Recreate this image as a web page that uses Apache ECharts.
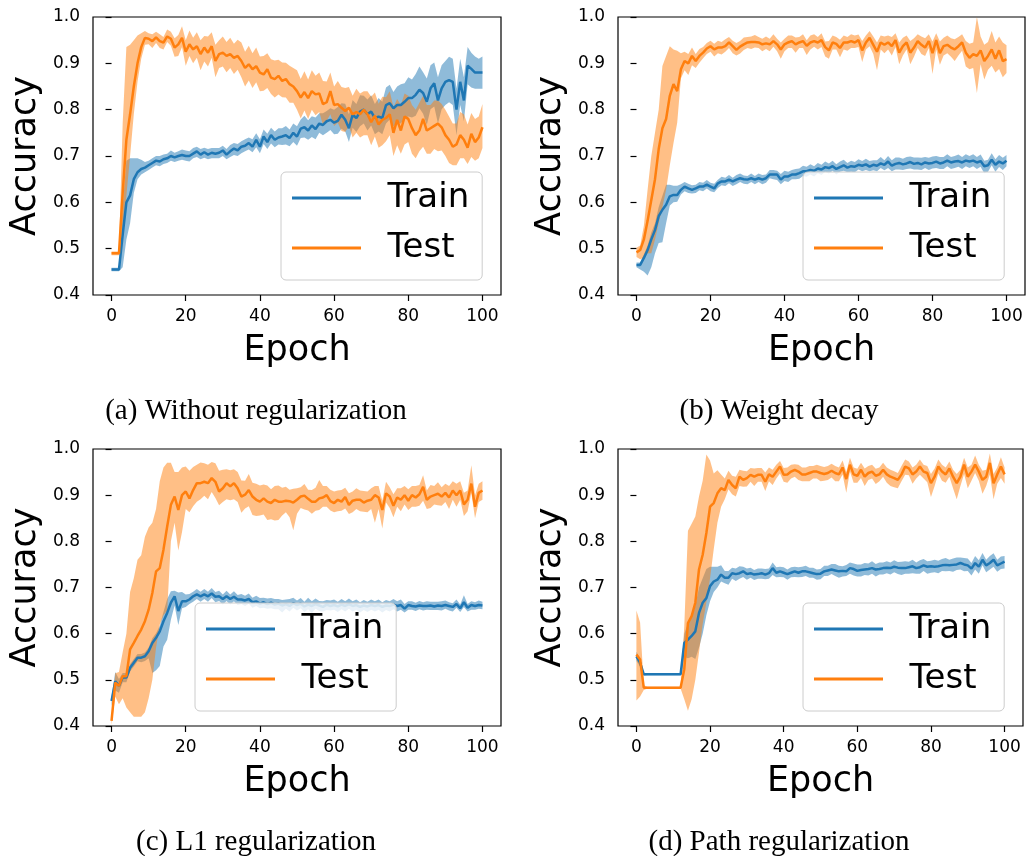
<!DOCTYPE html>
<html><head><meta charset="utf-8">
<script src="https://cdn.jsdelivr.net/npm/echarts@6/dist/echarts.min.js"></script>
<style>html,body{margin:0;padding:0;background:#fff}#c{width:1026px;height:856px}</style>
</head><body><div id="c"></div>
<script>
const epochs = [0,1,2,3,4,5,6,7,8,9,10,11,12,13,14,15,16,17,18,19,20,21,22,23,24,25,26,27,28,29,30,31,32,33,34,35,36,37,38,39,40,41,42,43,44,45,46,47,48,49,50,51,52,53,54,55,56,57,58,59,60,61,62,63,64,65,66,67,68,69,70,71,72,73,74,75,76,77,78,79,80,81,82,83,84,85,86,87,88,89,90,91,92,93,94,95,96,97,98,99,100];
const xTicks = [0,20,40,60,80,100];
const seriesNames = ['Train','Test'];
const captions = ['(a) Without regularization','(b) Weight decay','(c) L1 regularization','(d) Path regularization'];

// (a) Without regularization
const aTrain = [.455,.455,.455,.53,.60,.615,.65,.665,.672,.675,
.68,.685,.69,.688,.693,.695,.70,.697,.70,.702,
.70,.70,.705,.71,.703,.708,.703,.707,.705,.707,
.712,.703,.71,.716,.712,.72,.722,.728,.72,.735,
.72,.742,.73,.745,.735,.74,.742,.745,.739,.75,
.742,.759,.762,.755,.766,.758,.77,.767,.775,.778,
.772,.776,.789,.778,.76,.789,.782,.796,.80,.79,
.796,.782,.785,.782,.81,.814,.803,.81,.81,.817,
.825,.825,.832,.843,.836,.817,.846,.857,.82,.846,
.86,.864,.86,.80,.86,.82,.895,.888,.88,.88,
.88];
const aTrainDn = [.004,.004,.004,.07,.08,.06,.03,.015,.012,.01,
.01,.01,.01,.01,.01,.01,.01,.01,.01,.01,
.01,.012,.01,.012,.01,.012,.01,.012,.01,.012,
.012,.01,.012,.014,.012,.014,.012,.014,.012,.016,
.014,.016,.015,.018,.016,.015,.018,.02,.018,.02,
.02,.02,.022,.02,.025,.022,.02,.022,.025,.022,
.025,.028,.03,.025,.03,.028,.03,.032,.03,.035,
.03,.035,.032,.035,.04,.035,.04,.038,.04,.035,
.04,.042,.045,.04,.045,.05,.045,.05,.05,.045,
.05,.048,.05,.055,.05,.045,.04,.04,.035,.035,
.035];
const aTrainUp = [.004,.004,.004,.06,.09,.08,.045,.03,.02,.012,
.01,.01,.01,.012,.01,.01,.012,.01,.01,.012,
.012,.01,.012,.01,.012,.01,.012,.01,.012,.01,
.01,.012,.014,.012,.014,.012,.014,.012,.016,.014,
.016,.015,.018,.016,.018,.02,.018,.02,.018,.02,
.022,.02,.025,.022,.02,.025,.022,.025,.022,.025,
.028,.03,.025,.035,.03,.032,.03,.035,.03,.032,
.035,.03,.04,.035,.038,.04,.035,.04,.045,.04,
.045,.04,.045,.05,.045,.05,.05,.045,.05,.05,
.045,.05,.05,.045,.05,.05,.04,.035,.035,.03,
.035];
const aTest = [.49,.49,.49,.62,.735,.79,.85,.90,.935,.955,
.953,.948,.956,.948,.945,.958,.953,.934,.941,.955,
.925,.941,.93,.937,.92,.934,.923,.937,.905,.92,
.923,.916,.92,.912,.916,.905,.89,.898,.887,.894,
.88,.876,.887,.869,.866,.873,.862,.866,.855,.85,
.84,.826,.838,.825,.84,.833,.835,.812,.816,.84,
.81,.812,.804,.797,.804,.79,.795,.79,.80,.79,
.773,.787,.768,.778,.782,.79,.75,.778,.755,.785,
.78,.76,.745,.755,.78,.755,.76,.765,.77,.762,
.745,.735,.72,.725,.745,.735,.718,.748,.73,.74,
.762];
const aTestDn = [.004,.004,.004,.10,.12,.09,.06,.04,.025,.015,
.012,.015,.012,.015,.015,.012,.015,.02,.025,.02,
.03,.025,.03,.025,.035,.03,.03,.025,.035,.03,
.03,.035,.03,.035,.03,.035,.04,.035,.04,.035,
.04,.035,.04,.035,.04,.04,.035,.04,.04,.035,
.04,.045,.04,.045,.04,.045,.04,.045,.04,.05,
.045,.04,.05,.045,.04,.05,.045,.05,.055,.045,
.05,.045,.05,.055,.05,.045,.05,.055,.05,.06,
.05,.055,.05,.045,.06,.05,.055,.05,.06,.05,
.045,.05,.04,.045,.05,.04,.035,.05,.04,.045,
.045];
const aTestUp = [.004,.004,.004,.15,.2,.15,.1,.06,.03,.015,
.012,.015,.012,.015,.012,.015,.015,.02,.02,.025,
.025,.03,.025,.03,.03,.025,.035,.03,.035,.03,
.035,.03,.035,.03,.035,.04,.035,.04,.035,.04,
.035,.04,.035,.04,.04,.035,.04,.035,.04,.04,
.045,.04,.045,.04,.045,.04,.045,.05,.045,.04,
.04,.05,.045,.05,.045,.04,.05,.045,.04,.05,
.055,.05,.045,.05,.045,.05,.055,.045,.055,.05,
.05,.05,.055,.06,.05,.055,.05,.055,.05,.05,
.055,.05,.05,.045,.05,.055,.05,.045,.05,.045,
.05];

// (b) Weight decay
const bTrain = [.465,.465,.48,.497,.52,.54,.57,.584,.595,.613,
.616,.616,.627,.634,.63,.627,.63,.634,.634,.638,
.634,.63,.641,.645,.645,.649,.645,.649,.652,.65,
.649,.652,.649,.652,.649,.652,.66,.66,.66,.649,
.656,.656,.66,.66,.663,.667,.667,.67,.668,.673,
.671,.676,.674,.678,.672,.676,.68,.675,.678,.677,
.681,.679,.682,.677,.681,.679,.684,.681,.688,.679,
.683,.685,.682,.684,.687,.683,.685,.682,.686,.684,
.685,.688,.684,.686,.69,.686,.688,.689,.686,.69,
.688,.69,.686,.689,.678,.68,.692,.681,.688,.684,
.69];
const bTrainDn = [.005,.01,.03,.055,.06,.05,.058,.07,.04,.02,
.016,.015,.01,.01,.01,.008,.01,.008,.01,.008,
.01,.008,.01,.008,.01,.008,.01,.01,.008,.01,
.01,.008,.01,.008,.01,.01,.008,.01,.012,.01,
.01,.012,.01,.01,.012,.01,.012,.01,.012,.01,
.012,.01,.012,.01,.012,.01,.012,.01,.012,.012,
.01,.012,.012,.01,.012,.012,.01,.012,.014,.012,
.012,.014,.012,.012,.014,.012,.014,.012,.012,.014,
.012,.014,.012,.014,.012,.014,.014,.012,.014,.012,
.014,.012,.014,.012,.015,.014,.012,.015,.012,.014,
.012];
const bTrainUp = [.005,.005,.008,.01,.015,.015,.02,.03,.043,.025,
.02,.02,.012,.01,.01,.01,.008,.01,.008,.01,
.008,.01,.008,.01,.008,.01,.008,.01,.01,.008,
.008,.01,.008,.01,.01,.008,.01,.01,.008,.012,
.012,.01,.01,.012,.01,.012,.01,.012,.01,.012,
.01,.012,.01,.012,.01,.012,.012,.01,.012,.01,
.012,.01,.012,.012,.01,.012,.014,.01,.012,.012,
.014,.012,.012,.014,.012,.014,.012,.014,.012,.012,
.014,.012,.014,.012,.014,.012,.012,.014,.012,.014,
.012,.014,.012,.014,.012,.012,.014,.012,.014,.012,
.012];
const bTest = [.492,.497,.52,.56,.605,.65,.715,.76,.78,.83,
.855,.84,.887,.905,.90,.916,.905,.916,.923,.932,
.937,.93,.934,.934,.937,.945,.937,.929,.936,.941,
.945,.946,.946,.945,.941,.943,.941,.948,.941,.93,
.941,.945,.948,.941,.945,.948,.938,.945,.948,.945,
.95,.935,.928,.945,.942,.933,.945,.945,.948,.945,
.95,.928,.945,.955,.94,.925,.945,.94,.945,.937,
.95,.923,.937,.945,.923,.934,.948,.94,.934,.948,
.922,.95,.922,.937,.94,.934,.93,.937,.945,.923,
.912,.92,.916,.928,.905,.916,.93,.91,.928,.905,
.909];
const bTestDn = [.01,.02,.04,.07,.115,.13,.16,.17,.153,.15,
.127,.068,.02,.02,.025,.02,.015,.015,.012,.012,
.012,.015,.012,.015,.012,.012,.015,.012,.015,.012,
.012,.015,.012,.012,.015,.012,.015,.012,.015,.02,
.015,.012,.015,.018,.012,.015,.02,.015,.012,.015,
.015,.02,.018,.015,.012,.02,.015,.018,.015,.012,
.015,.025,.015,.018,.02,.04,.015,.018,.015,.02,
.015,.025,.02,.015,.025,.02,.015,.02,.018,.015,
.045,.02,.025,.02,.018,.02,.025,.02,.018,.03,
.025,.03,.08,.03,.04,.03,.035,.03,.04,.035,
.03];
const bTestUp = [.01,.01,.03,.067,.095,.1,.085,.134,.136,.107,
.075,.087,.035,.02,.02,.018,.015,.015,.012,.012,
.012,.012,.015,.012,.015,.012,.012,.015,.012,.015,
.012,.012,.015,.012,.012,.015,.012,.015,.012,.015,
.012,.015,.012,.015,.012,.015,.012,.015,.015,.012,
.015,.012,.02,.015,.015,.018,.015,.012,.015,.015,
.012,.02,.015,.015,.018,.02,.015,.018,.015,.02,
.015,.022,.018,.015,.025,.02,.015,.018,.02,.015,
.025,.015,.025,.018,.02,.02,.022,.02,.018,.025,
.03,.025,.084,.03,.035,.03,.04,.035,.03,.04,
.03];

// (c) L1 regularization
const cTrain = [.454,.497,.487,.505,.505,.526,.537,.548,.548,.551,
.562,.58,.591,.605,.627,.645,.667,.681,.649,.67,
.67,.674,.681,.685,.681,.685,.681,.687,.68,.681,
.675,.681,.675,.68,.674,.674,.672,.675,.668,.67,
.665,.668,.664,.667,.663,.665,.661,.664,.66,.666,
.662,.665,.659,.663,.66,.664,.661,.658,.663,.66,
.662,.659,.663,.66,.664,.66,.662,.658,.661,.659,
.662,.66,.662,.658,.661,.66,.663,.66,.662,.654,
.662,.66,.659,.661,.66,.66,.661,.659,.661,.66,
.662,.66,.658,.664,.655,.668,.656,.662,.66,.662,
.661];
const cTrainDn = [.01,.02,.015,.01,.01,.008,.008,.008,.01,.01,
.015,.065,.07,.075,.055,.058,.037,.02,.03,.015,
.012,.01,.012,.01,.012,.01,.012,.01,.012,.01,
.012,.01,.012,.01,.012,.01,.012,.01,.012,.01,
.01,.012,.01,.012,.01,.012,.015,.01,.012,.01,
.012,.01,.012,.01,.015,.01,.012,.01,.012,.01,
.01,.012,.01,.012,.01,.012,.01,.012,.01,.012,
.01,.012,.01,.012,.01,.012,.01,.012,.01,.008,
.01,.008,.01,.008,.01,.008,.01,.008,.01,.01,
.008,.01,.01,.008,.008,.01,.008,.01,.008,.008,
.008];
const cTrainUp = [.01,.02,.015,.01,.01,.008,.008,.008,.008,.008,
.008,.01,.01,.012,.02,.03,.025,.012,.04,.02,
.015,.012,.01,.012,.01,.012,.01,.012,.01,.012,
.01,.012,.01,.012,.01,.012,.01,.012,.01,.012,
.012,.01,.012,.01,.012,.01,.012,.01,.015,.012,
.01,.012,.01,.015,.01,.012,.01,.012,.01,.012,
.012,.01,.012,.01,.012,.01,.012,.01,.012,.01,
.012,.01,.012,.01,.012,.01,.012,.01,.012,.01,
.008,.01,.008,.01,.008,.01,.008,.01,.008,.01,
.01,.008,.008,.01,.008,.015,.008,.008,.008,.01,
.008];
const cTest = [.411,.494,.487,.508,.508,.566,.58,.595,.609,.627,
.652,.688,.735,.742,.782,.832,.879,.897,.868,.90,
.908,.893,.911,.926,.926,.929,.926,.937,.929,.908,
.915,.926,.919,.926,.915,.897,.901,.911,.897,.89,
.886,.893,.886,.883,.89,.886,.886,.888,.887,.884,
.89,.897,.899,.892,.886,.886,.893,.895,.90,.887,
.883,.89,.886,.896,.879,.888,.89,.89,.884,.888,
.89,.90,.895,.868,.904,.897,.877,.895,.89,.90,
.888,.90,.895,.902,.918,.89,.897,.90,.903,.897,
.905,.895,.91,.90,.91,.88,.89,.925,.875,.905,
.91];
const cTestDn = [.01,.03,.04,.048,.068,.136,.16,.175,.189,.197,
.192,.188,.165,.122,.142,.182,.079,.057,.088,.08,
.038,.03,.035,.04,.035,.03,.035,.03,.035,.03,
.03,.035,.03,.035,.03,.035,.03,.035,.04,.035,
.03,.035,.04,.035,.045,.04,.03,.025,.035,.06,
.03,.025,.03,.025,.026,.02,.025,.02,.025,.02,
.02,.025,.02,.025,.02,.025,.02,.025,.02,.025,
.02,.06,.025,.04,.02,.025,.025,.02,.025,.02,
.02,.025,.02,.025,.03,.02,.025,.02,.025,.02,
.02,.025,.02,.025,.02,.025,.025,.02,.025,.02,
.02];
const cTestUp = [.01,.02,.03,.052,.092,.124,.14,.165,.161,.183,
.178,.152,.135,.188,.178,.138,.091,.053,.082,.06,
.054,.06,.05,.04,.045,.04,.04,.035,.04,.045,
.04,.03,.035,.03,.035,.035,.03,.035,.03,.035,
.035,.03,.035,.03,.03,.035,.03,.03,.025,.03,
.025,.02,.025,.02,.025,.03,.04,.025,.02,.025,
.025,.02,.025,.02,.025,.02,.025,.02,.025,.02,
.025,.02,.025,.02,.025,.02,.025,.02,.025,.02,
.025,.02,.025,.02,.025,.02,.025,.02,.025,.02,
.02,.025,.02,.025,.02,.025,.02,.04,.025,.02,
.02];

// (d) Path regularization
const dTrain = [.551,.537,.512,.512,.512,.512,.512,.512,.512,.512,
.512,.512,.512,.58,.587,.595,.605,.645,.667,.677,
.703,.713,.717,.728,.721,.721,.731,.729,.731,.735,
.729,.731,.728,.729,.731,.728,.731,.742,.732,.735,
.732,.729,.732,.735,.732,.735,.735,.733,.731,.729,
.73,.735,.737,.739,.737,.735,.736,.735,.742,.74,
.736,.738,.739,.74,.742,.739,.74,.742,.743,.742,
.745,.743,.742,.742,.744,.746,.742,.744,.748,.745,
.746,.745,.746,.748,.749,.748,.749,.75,.753,.75,
.748,.741,.753,.745,.76,.748,.753,.76,.748,.752,
.756];
const dTrainDn = [.01,.008,.003,.002,.002,.002,.002,.002,.002,.002,
.002,.002,.002,.03,.04,.045,.06,.075,.067,.037,
.033,.023,.017,.015,.012,.015,.012,.015,.012,.012,
.012,.01,.012,.01,.012,.01,.012,.015,.01,.012,
.01,.012,.01,.012,.01,.012,.01,.012,.01,.012,
.012,.01,.012,.01,.012,.014,.012,.01,.012,.014,
.012,.014,.012,.014,.012,.015,.012,.014,.012,.014,
.012,.014,.015,.012,.014,.015,.012,.014,.012,.015,
.014,.012,.015,.012,.014,.012,.015,.012,.014,.015,
.012,.015,.014,.015,.012,.015,.014,.015,.014,.012,
.015];
const dTrainUp = [.01,.008,.003,.002,.002,.002,.002,.002,.002,.002,
.002,.002,.002,.02,.035,.04,.055,.055,.053,.063,
.042,.032,.028,.02,.015,.015,.012,.012,.015,.01,
.012,.012,.01,.012,.01,.012,.01,.012,.012,.01,
.012,.01,.012,.01,.012,.01,.012,.01,.012,.01,
.01,.012,.01,.012,.014,.012,.01,.014,.012,.012,
.014,.012,.014,.012,.015,.012,.014,.012,.014,.012,
.014,.012,.014,.015,.012,.014,.012,.015,.014,.012,
.012,.015,.012,.014,.015,.012,.014,.015,.012,.014,
.015,.012,.015,.014,.015,.012,.015,.014,.012,.015,
.012];
const dTest = [.555,.544,.483,.483,.483,.483,.483,.483,.483,.483,
.483,.483,.483,.523,.623,.638,.667,.739,.771,.818,
.875,.883,.904,.915,.911,.933,.922,.915,.94,.933,
.937,.944,.94,.944,.944,.929,.945,.94,.951,.962,
.944,.945,.951,.955,.951,.945,.945,.948,.951,.951,
.948,.946,.948,.953,.948,.945,.96,.935,.966,.945,
.942,.955,.94,.948,.951,.942,.945,.955,.945,.94,
.937,.933,.945,.962,.958,.945,.951,.962,.951,.948,
.926,.94,.962,.951,.945,.958,.94,.926,.94,.966,
.94,.951,.966,.951,.933,.94,.97,.926,.945,.962,
.945];
const dTestDn = [.1,.08,.005,.002,.002,.002,.002,.002,.002,.002,
.002,.002,.002,.065,.19,.18,.167,.18,.15,.15,
.155,.1,.064,.04,.02,.02,.02,.018,.02,.015,
.018,.015,.02,.015,.015,.02,.015,.018,.015,.015,
.015,.018,.015,.015,.018,.015,.015,.018,.015,.015,
.018,.015,.015,.015,.018,.015,.015,.03,.015,.018,
.015,.018,.02,.015,.015,.018,.015,.015,.018,.02,
.02,.018,.015,.018,.015,.02,.015,.018,.015,.02,
.03,.02,.015,.02,.018,.018,.025,.035,.02,.02,
.025,.02,.018,.02,.03,.02,.025,.035,.02,.025,
.02];
const dTestUp = [.095,.08,.005,.002,.002,.002,.002,.002,.002,.002,
.002,.002,.002,.093,.2,.2,.187,.158,.16,.17,
.1,.064,.05,.03,.025,.02,.02,.025,.015,.02,
.015,.015,.018,.015,.015,.02,.015,.015,.015,.012,
.015,.015,.015,.012,.015,.015,.015,.015,.012,.015,
.015,.015,.015,.015,.015,.015,.015,.015,.015,.015,
.015,.015,.018,.015,.015,.015,.015,.015,.015,.015,
.015,.015,.018,.015,.015,.015,.015,.015,.015,.015,
.02,.018,.015,.015,.015,.015,.015,.02,.015,.015,
.02,.015,.02,.015,.02,.015,.02,.02,.015,.02,
.015];

const panelsData = [
  [aTrain, aTrainDn, aTrainUp, aTest, aTestDn, aTestUp],
  [bTrain, bTrainDn, bTrainUp, bTest, bTestDn, bTestUp],
  [cTrain, cTrainDn, cTrainUp, cTest, cTestDn, cTestUp],
  [dTrain, dTrainDn, dTrainUp, dTest, dTestDn, dTestUp]
];

const layouts = [
  {left:93, top:17, width:408, height:278, lgLeft:281, lgTop:172, capX:256, capY:411},
  {left:618, top:17, width:407, height:278, lgLeft:803, lgTop:172, capX:779, capY:411},
  {left:93, top:449, width:408, height:277, lgLeft:195, lgTop:603, capX:256, capY:842},
  {left:618, top:449, width:405, height:277, lgLeft:803, lgTop:603, capX:779, capY:842}
];

const BLUE = '#1f77b4', ORANGE = '#ff7f0e';
const FONT = 'DejaVu Sans';

function bandSeries(i, mean, dn, up, fill) {
  const pts = epochs.map((e, k) => [e, mean[k] - dn[k], mean[k] + up[k]]);
  return {
    type: 'custom', xAxisIndex: i, yAxisIndex: i, silent: true, clip: true, z: 2,
    data: pts, encode: {x: 0, y: [1, 2]},
    renderItem: function (params, api) {
      if (params.dataIndex !== 0) return null;
      const upper = pts.map(p => api.coord([p[0], p[2]]));
      const lower = pts.map(p => api.coord([p[0], p[1]])).reverse();
      return {type: 'polygon', shape: {points: upper.concat(lower)}, style: {fill: fill, stroke: null}, silent: true};
    }
  };
}
function lineSeries(i, name, mean, color) {
  return {
    type: 'line', name: name, xAxisIndex: i, yAxisIndex: i, z: 3, silent: true,
    data: epochs.map((e, k) => [e, mean[k]]),
    symbol: 'none', lineStyle: {color: color, width: 2.5}, itemStyle: {color: color}
  };
}

const grids = [], xAxes = [], yAxes = [], legends = [], series = [], graphics = [];
layouts.forEach((L, i) => {
  grids.push({left: L.left, top: L.top, width: L.width, height: L.height, show: true, borderColor: '#000', borderWidth: 1.2, backgroundColor: 'transparent'});
  xAxes.push({
    gridIndex: i, type: 'value', min: -5, max: 105,
    axisLine: {show: false},
    axisTick: {show: true, customValues: xTicks, length: 6, lineStyle: {color: '#000', width: 1.2}},
    axisLabel: {customValues: xTicks, fontSize: 17, fontFamily: FONT, color: '#000', margin: 13},
    splitLine: {show: false},
    name: 'Epoch', nameLocation: 'middle', nameGap: 38,
    nameTextStyle: {fontSize: 35, fontFamily: FONT, color: '#000'}
  });
  yAxes.push({
    gridIndex: i, type: 'value', min: 0.4, max: 1.0, interval: 0.1,
    axisLine: {show: false},
    axisTick: {show: true, length: 6, lineStyle: {color: '#000', width: 1.2}},
    axisLabel: {fontSize: 17, fontFamily: FONT, color: '#000', margin: 13, formatter: v => v.toFixed(1)},
    splitLine: {show: false},
    name: 'Accuracy', nameLocation: 'middle', nameGap: 50, nameRotate: 90,
    nameTextStyle: {fontSize: 35, fontFamily: FONT, color: '#000'}
  });
  const D = panelsData[i];
  series.push(bandSeries(i, D[0], D[1], D[2], 'rgba(31,119,180,0.5)'));
  series.push(bandSeries(i, D[3], D[4], D[5], 'rgba(255,127,14,0.5)'));
  series.push(lineSeries(i, seriesNames[0], D[0], BLUE));
  series.push(lineSeries(i, seriesNames[1], D[3], ORANGE));
  legends.push({
    orient: 'vertical', left: L.lgLeft, top: L.lgTop, data: seriesNames, selectedMode: false,
    icon: 'rect', itemWidth: 69, itemHeight: 3, itemGap: 16, padding: [9, 13, 15, 11],
    backgroundColor: 'rgba(255,255,255,0.8)', borderColor: '#cccccc', borderWidth: 1, borderRadius: 5,
    formatter: n => '  ' + n,
    textStyle: {fontSize: 34, fontFamily: FONT, color: '#000'}
  });
  graphics.push({
    type: 'text', x: L.capX, y: L.capY, silent: true,
    style: {text: captions[i], font: '29px "Liberation Serif"', fill: '#000', textAlign: 'center', textVerticalAlign: 'middle'}
  });
});

const chart = echarts.init(document.getElementById('c'), null, {renderer: 'canvas'});
chart.setOption({
  animation: false,
  backgroundColor: '#fff',
  grid: grids, xAxis: xAxes, yAxis: yAxes, legend: legends, series: series, graphic: graphics
});
</script>
</body></html>
